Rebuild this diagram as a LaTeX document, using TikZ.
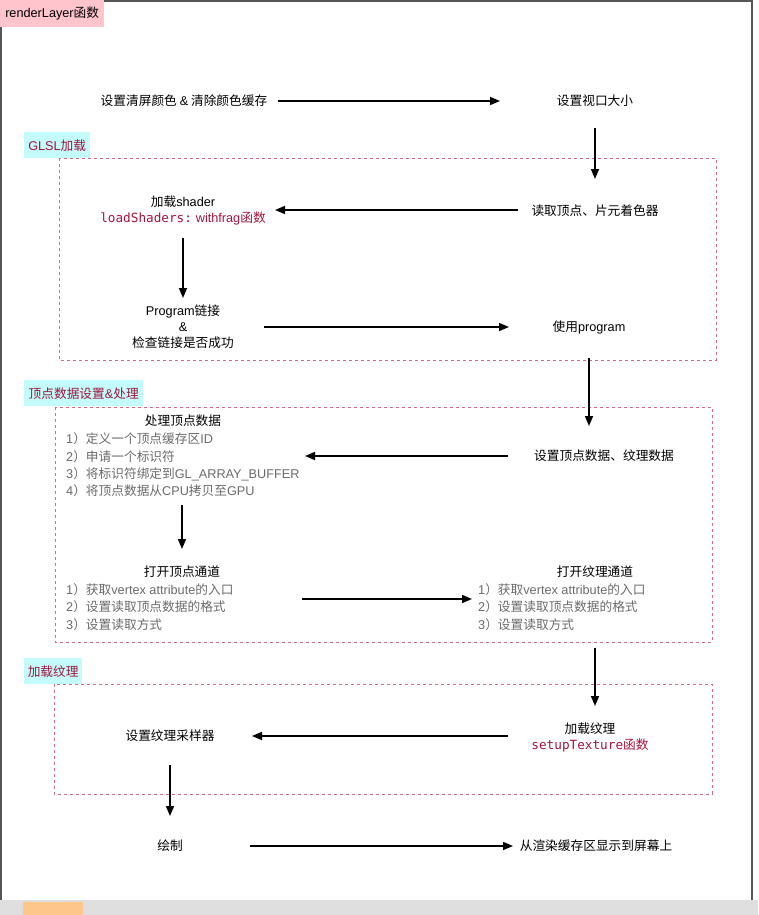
\documentclass[tikz,border=0pt]{standalone}
\usepackage{fontspec}
\setmainfont{Noto Sans CJK SC}
\newfontfamily\cjk{Noto Sans CJK SC}
\newfontfamily\lat{Liberation Sans}
\newfontfamily\monof{DejaVu Sans Mono}
\usetikzlibrary{arrows.meta}
\definecolor{labred}{HTML}{A3143C}
\definecolor{pinkbg}{HTML}{FFC4CC}
\definecolor{cyanbg}{HTML}{C4FBFB}
\definecolor{dashc}{HTML}{D26A86}
\definecolor{listgray}{HTML}{6A6A6A}
\definecolor{bordergray}{HTML}{555555}
\newcommand{\LT}[1]{{\lat #1}}
\begin{document}
\begin{tikzpicture}[x=1pt,y=-1pt,
  every node/.style={font=\cjk\fontsize{12.7}{15}\selectfont, inner sep=0pt},
  txt/.style={align=center},
  lst/.style={anchor=west, text=listgray},
  arr/.style={line width=1.5pt, -{Triangle[length=10pt,width=8pt]}},
  grp/.style={draw=dashc, line width=0.9pt, dash pattern=on 3pt off 3pt},
  tag/.style={fill=cyanbg, text=labred, inner xsep=3pt, minimum height=26pt, anchor=north west},
  red/.style={text=labred}]
\useasboundingbox (0,0) rectangle (758,915);
% outer frame
\draw[bordergray, line width=1.4pt] (1,27) -- (1,900);
\draw[bordergray, line width=1.4pt] (104,1) -- (752,1) -- (752,900);
\fill[gray!25] (0,900) rectangle (758,915);
\fill[orange!45] (23,902) rectangle (83,915);
\node[fill=pinkbg, anchor=north west, minimum height=27pt, minimum width=104pt, inner xsep=3pt] (title) at (0,0) {\LT{renderLayer}函数};

% groups
\draw[grp] (59,158) rectangle (716,360);
\draw[grp] (55,407) rectangle (712,642);
\draw[grp] (54,684) rectangle (712,794);
\node[tag, minimum width=66pt] (t1) at (24,132) {\LT{GLSL}加载};
\node[tag, minimum width=119pt] (t2) at (24,380) {顶点数据设置\LT{\&}处理};
\node[tag, minimum width=58pt] (t3) at (24,658) {加载纹理};

% nodes
\node[txt] (clear) at (184,101) {设置清屏颜色 \LT{\&} 清除颜色缓存};
\node[txt] (viewport) at (595,101) {设置视口大小};
\node[txt] (read) at (595,211) {读取顶点、片元着色器};
\node[txt] (load) at (183,210) {加载\LT{shader}\\[1pt]{\color{labred}{\monof loadShaders:} \LT{withfrag}函数}};
\node[txt] (link) at (183,327) {\LT{Program}链接\\[1pt]\LT{\&}\\[1pt]检查链接是否成功};
\node[txt] (use) at (589,327) {使用\LT{program}};
\node[txt] (setv) at (604,456) {设置顶点数据、纹理数据};
\node[txt] (proc) at (183,421) {处理顶点数据};
\node[lst] (p1) at (66,439) {\LT{1}）定义一个顶点缓存区\LT{ID}};
\node[lst] (p2) at (66,457) {\LT{2}）申请一个标识符};
\node[lst] (p3) at (66,474) {\LT{3}）将标识符绑定到\LT{GL\_ARRAY\_BUFFER}};
\node[lst] (p4) at (66,491) {\LT{4}）将顶点数据从\LT{CPU}拷贝至\LT{GPU}};
\node[txt] (openv) at (182,572) {打开顶点通道};
\node[lst] (v1) at (66,590) {\LT{1}）获取\LT{vertex attribute}的入口};
\node[lst] (v2) at (66,607) {\LT{2}）设置读取顶点数据的格式};
\node[lst] (v3) at (66,625) {\LT{3}）设置读取方式};
\node[txt] (opent) at (595,572) {打开纹理通道};
\node[lst] (w1) at (478,590) {\LT{1}）获取\LT{vertex attribute}的入口};
\node[lst] (w2) at (478,607) {\LT{2}）设置读取顶点数据的格式};
\node[lst] (w3) at (478,625) {\LT{3}）设置读取方式};
\node[txt] (loadtex) at (590,737) {加载纹理\\[1pt]{\color{labred}\monof setupTexture\cjk 函数}};
\node[txt] (sampler) at (170,736) {设置纹理采样器};
\node[txt] (draw) at (170,846) {绘制};
\node[txt] (show) at (596,846) {从渲染缓存区显示到屏幕上};

% helper coordinates for arrow ends
\coordinate (a1s) at (278,101); \coordinate (a1e) at (500,101);
\coordinate (a2s) at (595,128); \coordinate (a2e) at (595,179);
\coordinate (a3s) at (518,210); \coordinate (a3e) at (275,210);
\coordinate (a4s) at (183,238); \coordinate (a4e) at (183,298);
\coordinate (a5s) at (264,327); \coordinate (a5e) at (509,327);
\coordinate (a6s) at (589,358); \coordinate (a6e) at (589,426);
\coordinate (a7s) at (508,456); \coordinate (a7e) at (305,456);
\coordinate (a8s) at (182,505); \coordinate (a8e) at (182,549);
\coordinate (a9s) at (302,599); \coordinate (a9e) at (472,599);
\coordinate (a10s) at (595,648); \coordinate (a10e) at (595,706);
\coordinate (a11s) at (508,736); \coordinate (a11e) at (252,736);
\coordinate (a12s) at (170,765); \coordinate (a12e) at (170,816);
\coordinate (a13s) at (250,846); \coordinate (a13e) at (513,846);
\foreach \i in {1,...,13} \draw[arr] (a\i s) -- (a\i e);
\end{tikzpicture}
\end{document}
